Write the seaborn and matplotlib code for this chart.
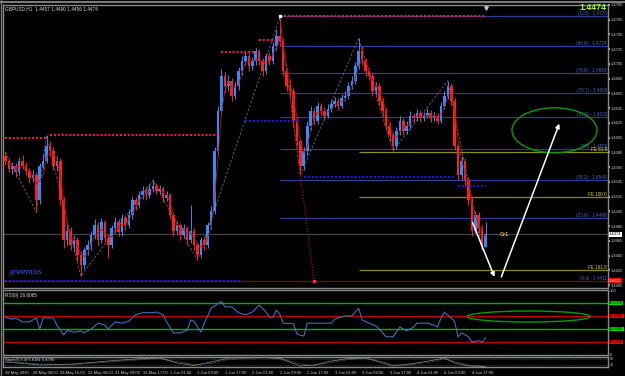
import numpy as np
import pandas as pd
import matplotlib
matplotlib.use("Agg")
import matplotlib.pyplot as plt
from matplotlib.patches import Ellipse
from matplotlib.lines import Line2D
import seaborn as sns

# ---------------- data ----------------
opens = [1.4580, 1.4574, 1.4563, 1.4567, 1.4558, 1.4574, 1.4567, 1.4560, 1.4550, 1.4554,
         1.4520, 1.4567, 1.4574, 1.4594, 1.4587, 1.4567, 1.4574, 1.4520, 1.4466, 1.4479,
         1.4459, 1.4466, 1.4446, 1.4432, 1.4452, 1.4459, 1.4473, 1.4486, 1.4466, 1.4490,
         1.4469, 1.4459, 1.4482, 1.4490, 1.4477, 1.4496, 1.4486, 1.4500, 1.4520, 1.4513,
         1.4527, 1.4533, 1.4527, 1.4536, 1.4540, 1.4533, 1.4536, 1.4523, 1.4527, 1.4500,
         1.4479, 1.4486, 1.4473, 1.4482, 1.4466, 1.4479, 1.4459, 1.4446, 1.4466, 1.4459,
         1.4486, 1.4506, 1.4587, 1.4641, 1.4689, 1.4675, 1.4682, 1.4662, 1.4675, 1.4695,
         1.4709, 1.4716, 1.4702, 1.4709, 1.4722, 1.4709, 1.4695, 1.4716, 1.4709, 1.4729,
         1.4743, 1.4736, 1.4695, 1.4675, 1.4668, 1.4628, 1.4601, 1.4567, 1.4587, 1.4621,
         1.4641, 1.4628, 1.4648, 1.4641, 1.4635, 1.4644, 1.4651, 1.4655, 1.4648, 1.4659,
         1.4662, 1.4675, 1.4682, 1.4702, 1.4722, 1.4709, 1.4695, 1.4689, 1.4668, 1.4675,
         1.4655, 1.4641, 1.4621, 1.4608, 1.4594, 1.4614, 1.4628, 1.4614, 1.4621, 1.4635,
         1.4631, 1.4639, 1.4631, 1.4635, 1.4639, 1.4631, 1.4635, 1.4628, 1.4648, 1.4662,
         1.4675, 1.4655, 1.4594, 1.4554, 1.4574, 1.4547, 1.4520, 1.4479, 1.4500, 1.4482,
         1.4457]
highs = [1.4586, 1.4578, 1.4572, 1.4570, 1.4579, 1.4581, 1.4572, 1.4564, 1.4561, 1.4558,
         1.4571, 1.4583, 1.4608, 1.4601, 1.4592, 1.4580, 1.4577, 1.4524, 1.4488, 1.4484,
         1.4473, 1.4470, 1.4451, 1.4457, 1.4466, 1.4478, 1.4494, 1.4490, 1.4496, 1.4493,
         1.4474, 1.4487, 1.4497, 1.4494, 1.4502, 1.4500, 1.4507, 1.4526, 1.4524, 1.4533,
         1.4540, 1.4538, 1.4542, 1.4547, 1.4544, 1.4541, 1.4539, 1.4532, 1.4530, 1.4504,
         1.4492, 1.4489, 1.4488, 1.4485, 1.4513, 1.4483, 1.4463, 1.4470, 1.4471, 1.4490,
         1.4512, 1.4592, 1.4648, 1.4698, 1.4694, 1.4690, 1.4686, 1.4680, 1.4701, 1.4716,
         1.4723, 1.4720, 1.4715, 1.4727, 1.4725, 1.4713, 1.4720, 1.4721, 1.4735, 1.4752,
         1.4768, 1.4740, 1.4700, 1.4683, 1.4672, 1.4633, 1.4605, 1.4592, 1.4627, 1.4648,
         1.4645, 1.4654, 1.4652, 1.4646, 1.4650, 1.4657, 1.4660, 1.4659, 1.4664, 1.4668,
         1.4681, 1.4689, 1.4708, 1.4740, 1.4730, 1.4713, 1.4700, 1.4693, 1.4681, 1.4679,
         1.4659, 1.4645, 1.4626, 1.4612, 1.4619, 1.4634, 1.4632, 1.4627, 1.4641, 1.4639,
         1.4644, 1.4642, 1.4640, 1.4645, 1.4643, 1.4640, 1.4638, 1.4653, 1.4668, 1.4682,
         1.4679, 1.4659, 1.4598, 1.4580, 1.4578, 1.4551, 1.4524, 1.4506, 1.4504, 1.4486,
         1.4490]
lows = [1.4568, 1.4558, 1.4556, 1.4552, 1.4555, 1.4562, 1.4554, 1.4543, 1.4545, 1.4504,
        1.4515, 1.4562, 1.4570, 1.4580, 1.4561, 1.4560, 1.4513, 1.4455, 1.4460, 1.4452,
        1.4450, 1.4438, 1.4417, 1.4427, 1.4446, 1.4453, 1.4468, 1.4460, 1.4462, 1.4463,
        1.4442, 1.4455, 1.4476, 1.4471, 1.4472, 1.4480, 1.4482, 1.4495, 1.4507, 1.4509,
        1.4522, 1.4521, 1.4523, 1.4531, 1.4528, 1.4529, 1.4518, 1.4519, 1.4494, 1.4472,
        1.4474, 1.4466, 1.4469, 1.4460, 1.4462, 1.4452, 1.4439, 1.4442, 1.4453, 1.4455,
        1.4481, 1.4502, 1.4582, 1.4635, 1.4666, 1.4668, 1.4655, 1.4657, 1.4670, 1.4690,
        1.4703, 1.4696, 1.4697, 1.4704, 1.4703, 1.4688, 1.4691, 1.4703, 1.4705, 1.4724,
        1.4730, 1.4688, 1.4668, 1.4660, 1.4620, 1.4594, 1.4554, 1.4561, 1.4582, 1.4616,
        1.4622, 1.4624, 1.4636, 1.4629, 1.4631, 1.4640, 1.4646, 1.4643, 1.4645, 1.4655,
        1.4658, 1.4671, 1.4678, 1.4698, 1.4703, 1.4688, 1.4683, 1.4661, 1.4663, 1.4649,
        1.4635, 1.4615, 1.4601, 1.4587, 1.4590, 1.4609, 1.4608, 1.4610, 1.4617, 1.4626,
        1.4627, 1.4626, 1.4627, 1.4631, 1.4626, 1.4627, 1.4623, 1.4625, 1.4644, 1.4658,
        1.4649, 1.4588, 1.4547, 1.4548, 1.4540, 1.4513, 1.4472, 1.4475, 1.4476, 1.4452,
        1.4456]
closes = [1.4574, 1.4563, 1.4567, 1.4558, 1.4574, 1.4567, 1.4560, 1.4550, 1.4554, 1.4520,
          1.4567, 1.4574, 1.4594, 1.4587, 1.4567, 1.4574, 1.4520, 1.4466, 1.4479, 1.4459,
          1.4466, 1.4446, 1.4432, 1.4452, 1.4459, 1.4473, 1.4486, 1.4466, 1.4490, 1.4469,
          1.4459, 1.4482, 1.4490, 1.4477, 1.4496, 1.4486, 1.4500, 1.4520, 1.4513, 1.4527,
          1.4533, 1.4527, 1.4536, 1.4540, 1.4533, 1.4536, 1.4523, 1.4527, 1.4500, 1.4479,
          1.4486, 1.4473, 1.4482, 1.4466, 1.4479, 1.4459, 1.4446, 1.4466, 1.4459, 1.4486,
          1.4506, 1.4587, 1.4641, 1.4689, 1.4675, 1.4682, 1.4662, 1.4675, 1.4695, 1.4709,
          1.4716, 1.4702, 1.4709, 1.4722, 1.4709, 1.4695, 1.4716, 1.4709, 1.4729, 1.4743,
          1.4736, 1.4695, 1.4675, 1.4668, 1.4628, 1.4601, 1.4567, 1.4587, 1.4621, 1.4641,
          1.4628, 1.4648, 1.4641, 1.4635, 1.4644, 1.4651, 1.4655, 1.4648, 1.4659, 1.4662,
          1.4675, 1.4682, 1.4702, 1.4722, 1.4709, 1.4695, 1.4689, 1.4668, 1.4675, 1.4655,
          1.4641, 1.4621, 1.4608, 1.4594, 1.4614, 1.4628, 1.4614, 1.4621, 1.4635, 1.4631,
          1.4639, 1.4631, 1.4635, 1.4639, 1.4631, 1.4635, 1.4628, 1.4648, 1.4662, 1.4675,
          1.4655, 1.4594, 1.4554, 1.4574, 1.4547, 1.4520, 1.4479, 1.4500, 1.4482, 1.4457,
          1.4474]

time_labels = ["28 May 2010", "28 May 08:00", "28 May 16:00", "31 May 00:00", "31 May 09:00",
               "31 May 17:00", "1 Jun 01:00", "1 Jun 09:00", "1 Jun 17:00", "2 Jun 01:00",
               "2 Jun 09:00", "2 Jun 17:00", "3 Jun 01:00", "3 Jun 09:00", "3 Jun 17:00",
               "4 Jun 01:00", "4 Jun 09:00", "4 Jun 17:00"]
time_label_bars = [0, 8, 16, 24, 32, 40, 48, 56, 64, 72, 80, 88, 96, 104, 112, 120, 128, 136]

price_ticks = [1.4785, 1.4765, 1.4745, 1.4725, 1.4705, 1.4685, 1.4665, 1.4645, 1.4625, 1.4605,
               1.4585, 1.4565, 1.4545, 1.4525, 1.4505, 1.4485, 1.4465, 1.4445, 1.4425, 1.4405]

fib_names = ["(100)", "(88.6)", "(78.6)", "(70.7)", "(61.8)", "(50)", "(38.2)", "(23.6)"]
fib_prices = [1.4770, 1.4729, 1.4693, 1.4665, 1.4633, 1.4590, 1.4548, 1.4496]
fib_zero_name = "(0.0)"
fib_zero_price = 1.4411
fe_names = ["FE 61.8", "FE 100.0", "FE 161.8"]
fe_prices = [1.4585, 1.4524, 1.4426]

res_start = [0, 13, 63, 74, 80]
res_end = [12, 62, 73, 79, 140]
res_price = [1.4605, 1.4609, 1.4721, 1.4737, 1.4770]
sup_start = [0, 70, 87, 132]
sup_end = [69, 86, 131, 140]
sup_price = [1.4410, 1.4628, 1.4552, 1.4539]

zz_bars = [0, 9, 12, 22, 43, 56, 80, 86, 103, 113, 129, 139]
zz_prices = [1.4586, 1.4504, 1.4608, 1.4417, 1.4547, 1.4439, 1.4768, 1.4554, 1.4740, 1.4587, 1.4682, 1.4452]

fib_anchor_bars = [80, 90]
fib_anchor_prices = [1.4770, 1.4411]

rsi_bars = [0, 2, 3, 5, 7, 9, 10, 11, 14, 15, 17, 18, 20, 22, 23, 25, 27, 29, 30, 32,
            34, 36, 38, 40, 42, 44, 46, 47, 49, 51, 53, 54, 55, 57, 58, 60, 63, 64, 66, 68,
            70, 72, 74, 76, 77, 78, 79, 80, 81, 84, 85, 87, 88, 90, 92, 95, 96, 97, 99, 101,
            103, 104, 106, 108, 109, 111, 113, 115, 117, 119, 120, 123, 125, 126, 127, 128, 130,
            131, 132, 133, 135, 136, 138, 139, 140]
rsi_vals = [58, 55, 57, 51, 51, 57, 40, 57, 57, 46, 31, 38, 35, 37, 34, 40, 49, 46, 40, 51,
            49, 52, 62, 65, 65, 66, 62, 51, 34, 34, 38, 54, 52, 35, 49, 72, 82, 74, 74, 65,
            62, 66, 77, 66, 58, 58, 69, 63, 49, 48, 32, 29, 49, 49, 49, 49, 55, 57, 60, 60,
            72, 54, 49, 45, 40, 28, 28, 43, 37, 43, 49, 49, 46, 43, 57, 66, 57,
            51, 28, 34, 28, 20, 22, 20, 26.6]
rsi_levels = [80, 60, 40, 20]
rsi_level_colors = ["#00b400", "#c00000", "#00b400", "#c00000"]
rsi_box_colors = ["#00e000", "#ff0000", "#00e000", "#ff0000"]

stoch_bars = [0, 10, 20, 30, 40, 45, 50, 55, 60, 65, 75, 80, 86, 90, 95, 100, 105, 110, 113, 118, 125, 128, 131, 135, 140]
stoch_main = [50, 20, 30, 60, 85, 90, 40, 15, 50, 90, 95, 85, 10, 20, 60, 85, 90, 40, 10, 30, 70, 90, 40, 10, 5]
stoch_sig = [55, 30, 25, 50, 75, 88, 55, 25, 35, 75, 93, 90, 30, 15, 45, 75, 88, 55, 20, 22, 55, 82, 55, 20, 6]

arrow_down = [(136.2, 1.4490), (142.6, 1.4416)]
arrow_up = [(144.6, 1.4416), (161.5, 1.4624)]
ellipse_main = (160.1, 1.4615, 24.8, 0.0061)
ellipse_rsi = (152.6, 59.2, 35.9, 17.0)

# ---------------- style ----------------
sns.set_theme(style="dark")
NARROW = ["Liberation Sans Narrow", "Liberation Sans", "DejaVu Sans"]
plt.rcParams["font.family"] = NARROW
plt.rcParams["axes.facecolor"] = "black"
plt.rcParams["figure.facecolor"] = "black"

W, H = 625, 376
fig = plt.figure(figsize=(W / 100, H / 100), dpi=100)

def box(x0, y0, x1, y1):
    return [x0 / W, 1 - y1 / H, (x1 - x0) / W, (y1 - y0) / H]

ax = fig.add_axes(box(3, 5, 608, 288))
ax_rsi = fig.add_axes(box(3, 290, 608, 355), sharex=ax)
ax_st = fig.add_axes(box(3, 357, 608, 367), sharex=ax)

XMAX = 175.7
XMIN = -0.7
for a in (ax, ax_rsi, ax_st):
    a.set_facecolor("black")
    a.grid(False)
    for s in a.spines.values():
        s.set_color("#8a8a8a")
        s.set_linewidth(1.0)
    a.tick_params(axis="both", which="both", length=0, labelsize=3.0, colors="#d0d0d0", pad=1)
    a.set_xlim(XMIN, XMAX)

ax.set_ylim(1.4401, 1.4783)
df = pd.DataFrame({"open": opens, "high": highs, "low": lows, "close": closes})
df["bar"] = np.arange(len(df))
bull = df["close"] >= df["open"]
colors = np.where(bull, "#2f8cff", "#ff2020")

# gray current price line and fib / FE lines (background)
ax.axhline(closes[-1], color="#3e4650", lw=0.9, zorder=1)
ax.hlines(fib_prices, 80, XMAX, color="#2a3c9c", lw=0.9, zorder=1)
ax.hlines(fib_zero_price, XMIN, XMAX, color="#8b0000", lw=0.9, zorder=1)
ax.hlines(fe_prices, 103, XMAX, color="#8c8c10", lw=0.9, zorder=1)

# zigzag
sns.lineplot(x=zz_bars, y=zz_prices, ax=ax, color="#6a6a6a", lw=0.6, linestyle=(0, (3, 2)), zorder=2)

# candles
ax.vlines(df["bar"], df["low"], df["high"], colors=colors, lw=0.7, zorder=3)
body_h = np.maximum((df["close"] - df["open"]).abs(), 0.00008)
ax.bar(df["bar"], body_h, bottom=np.minimum(df["open"], df["close"]), width=0.75,
       color=colors, linewidth=0, zorder=4)

# MA
ma = df["close"].rolling(3, min_periods=1).mean()
sns.lineplot(x=df["bar"], y=ma, ax=ax, color="#c01010", lw=0.6, zorder=5)

# resistance (red dotted) / support (blue dotted)
for s, e, p in zip(res_start, res_end, res_price):
    ax.hlines(p, s, e, color="#ff1f3a", lw=1.4, linestyles=(0, (1, 1)), zorder=6)
for s, e, p in zip(sup_start, sup_end, sup_price):
    ax.hlines(p, s, e, color="#1a1aff", lw=1.4, linestyles=(0, (1, 1)), zorder=6)

# fib anchor
ax.plot(fib_anchor_bars, fib_anchor_prices, color="#c01010", lw=0.8, linestyle=(0, (1, 1.5)), zorder=6)
ax.plot(fib_anchor_bars[1], fib_anchor_prices[1], marker="s", ms=2, color="#ff3030", zorder=7)
ax.plot(fib_anchor_bars[0], fib_anchor_prices[0], marker="s", ms=1.6, color="#ffffff", zorder=7)

# labels for fib / FE
for n, p in zip(fib_names, fib_prices):
    ax.text(XMAX - 0.3, p, f"{n} - {p:.4f}", ha="right", va="bottom", fontsize=3.3,
            color="#4a64c8", zorder=8)
ax.text(XMAX - 0.3, fib_zero_price, f"{fib_zero_name} - {fib_zero_price:.4f}", ha="right",
        va="bottom", fontsize=3.3, color="#4a64c8", zorder=8)
for n, p in zip(fe_names, fe_prices):
    ax.text(XMAX - 0.3, p, n, ha="right", va="bottom", fontsize=3.3, color="#d8d820", zorder=8)

# annotations
ax.add_patch(Ellipse((ellipse_main[0], ellipse_main[1]), ellipse_main[2], ellipse_main[3],
                     fill=False, edgecolor="#0a9a0a", lw=1.0, zorder=8))
for (x0, y0), (x1, y1) in (arrow_down, arrow_up):
    ax.annotate("", xy=(x1, y1), xytext=(x0, y0),
                arrowprops=dict(arrowstyle="-|>", color="white", lw=1.1, mutation_scale=6,
                                shrinkA=0, shrinkB=0), zorder=9)
ax.text(144, 1.4473, "Cr1", fontsize=4.0, color="#ffb000", fontweight="bold", va="center", ha="left")
ax.text(1, 1.4423, "greenius", fontsize=5.5, color="#2f5cff", style="italic", va="center", ha="left",
        family=["DejaVu Serif"])

# header texts
ax.text(0.003, 0.995, "GBPUSD,H1  1.4457 1.4490 1.4456 1.4474", transform=ax.transAxes,
        fontsize=3.4, color="#d8d8d8", va="top", ha="left")
ax.text(0.998, 1.006, "1.4474", transform=ax.transAxes, fontsize=6.3, color="#9dff2a",
        fontweight="bold", va="top", ha="right", family=["Liberation Sans", "DejaVu Sans"],
        clip_on=False, zorder=10)
ax.plot(140, 1.4781, marker="v", ms=2.5, color="#c0c0c0", zorder=9, clip_on=False)

# right price axis
ax.yaxis.tick_right()
ax.set_yticks(price_ticks)
ax.set_yticklabels([f"{p:.4f}" for p in price_ticks])
ax.tick_params(axis="y", length=1.2, color="#d0d0d0", pad=1.0, labelsize=3.0)
ytr = ax.get_yaxis_transform()
ax.text(1.002, closes[-1], f"{closes[-1]:.4f}", transform=ytr, fontsize=3.0, color="black",
        va="center", ha="left", bbox=dict(boxstyle="square,pad=0.12", fc="white", ec="none"), clip_on=False)
ax.text(1.002, fib_zero_price, f"{fib_zero_price:.4f}", transform=ytr, fontsize=3.0, color="white",
        va="center", ha="left", bbox=dict(boxstyle="square,pad=0.12", fc="#ff0000", ec="none"), clip_on=False)

# ---------------- RSI ----------------
ax_rsi.set_ylim(0, 100)
for lv, c in zip(rsi_levels, rsi_level_colors):
    ax_rsi.axhline(lv, color=c, lw=1.0, zorder=1)
sns.lineplot(x=rsi_bars, y=rsi_vals, ax=ax_rsi, color="#3a80d8", lw=0.7, zorder=3)
ax_rsi.add_patch(Ellipse((ellipse_rsi[0], ellipse_rsi[1]), ellipse_rsi[2], ellipse_rsi[3],
                         fill=False, edgecolor="#0a9a0a", lw=1.0, zorder=4))
ax_rsi.text(0.003, 0.96, "RSI(9) 26.6065", transform=ax_rsi.transAxes, fontsize=3.4,
            color="#d8d8d8", va="top", ha="left")
ax_rsi.yaxis.tick_right()
ax_rsi.set_yticks([100, 0])
ax_rsi.set_yticklabels(["100", "0"])
rtr = ax_rsi.get_yaxis_transform()
for lv, c in zip(rsi_levels, rsi_box_colors):
    ax_rsi.text(1.002, lv, f"{lv:.4f}", transform=rtr, fontsize=2.8, color="black", va="center",
                ha="left", bbox=dict(boxstyle="square,pad=0.1", fc=c, ec="none"), clip_on=False)

# ---------------- Stoch ----------------
ax_st.set_ylim(0, 100)
ax_st.axhline(80, color="#2a3cb0", lw=0.6, linestyle=(0, (1, 1)))
ax_st.axhline(20, color="#2a3cb0", lw=0.6, linestyle=(0, (1, 1)))
sns.lineplot(x=stoch_bars, y=stoch_main, ax=ax_st, color="#8a8a8a", lw=0.5)
sns.lineplot(x=stoch_bars, y=stoch_sig, ax=ax_st, color="#8a8a8a", lw=0.5, linestyle=(0, (1, 1)))
ax_st.text(0.003, 0.92, "Stoch(5,3,3) 5.6181 5.4795", transform=ax_st.transAxes, fontsize=3.0,
           color="#d8d8d8", va="top", ha="left")
ax_st.yaxis.tick_right()
ax_st.set_yticks([80, 20])
ax_st.set_yticklabels(["80", "20"])
ax_st.tick_params(axis="y", labelsize=2.6)

# x axis labels
for a in (ax, ax_rsi):
    a.tick_params(axis="x", labelbottom=False)
    a.set_xlabel("")
    a.set_ylabel("")
ax_st.set_xlabel("")
ax_st.set_ylabel("")
ax_st.set_xticks(time_label_bars)
ax_st.set_xticklabels(time_labels, ha="left")
ax_st.tick_params(axis="x", length=1.5, color="#d0d0d0", pad=1.2, labelsize=3.0)

# figure border
fig.add_artist(Line2D([0, 1], [1 - 1.5 / H, 1 - 1.5 / H], color="#7a7a7a", lw=1.5))
fig.add_artist(Line2D([1 / W, 1 / W], [0, 1], color="#7a7a7a", lw=1.0))

fig.savefig("out.png", dpi=100, facecolor="black")
